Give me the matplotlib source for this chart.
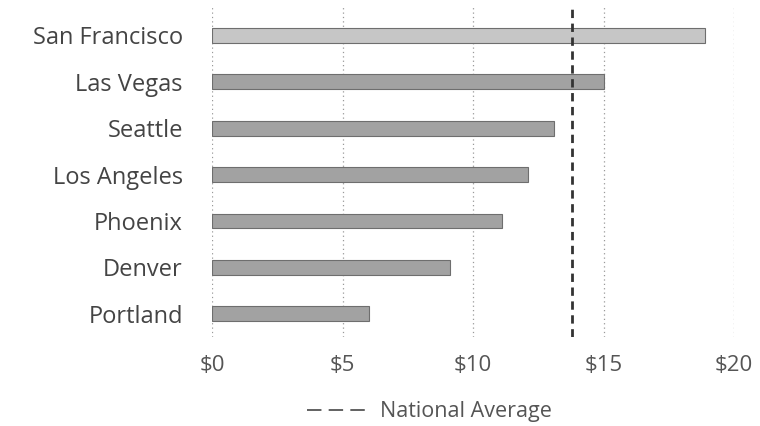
import numpy as np
import matplotlib.pyplot as plt

# hourly minimum wage by city (USD)
cities = ["San Francisco", "Las Vegas", "Seattle", "Los Angeles", "Phoenix", "Denver", "Portland"]
wages = [18.9, 15.0, 13.1, 12.1, 11.1, 9.1, 6.0]
national_avg = 13.8
x_ticks = [0, 5, 10, 15, 20]
x_labels = ["$0", "$5", "$10", "$15", "$20"]

plt.rcParams['font.family'] = ['Open Sans', 'DejaVu Sans']

fig = plt.figure(figsize=(7.6, 4.26), dpi=100)
ax = fig.add_axes([0.279, 0.209, 0.687, 0.779])

# top bar is drawn in a lighter tone than the rest
colors = ['#c6c6c6'] + ['#a2a2a2'] * (len(cities) - 1)
y = np.arange(len(cities))[::-1]
ax.barh(y, wages, height=0.32, color=colors, edgecolor='#6e6e6e', linewidth=0.8, zorder=3)

ax.axvline(national_avg, color='#333333', linestyle=(0, (3, 2)), linewidth=2.0,
           zorder=4, label='National Average')

ax.set_xlim(0, 20)
ax.set_ylim(-0.5, 6.65)
ax.set_xticks(x_ticks)
ax.set_xticklabels(x_labels, fontsize=16, color='#555555')
ax.set_yticks(y)
ax.set_yticklabels(cities, fontsize=17, color='#444444')
ax.tick_params(length=0)
ax.tick_params(axis='x', pad=13)
ax.tick_params(axis='y', pad=21)

ax.grid(axis='x', linestyle=(0, (1, 2.5)), color='#999999', linewidth=0.9, zorder=0)
for s in ax.spines.values():
    s.set_visible(False)

handles, labels = ax.get_legend_handles_labels()
leg = fig.legend(handles, labels, loc='center', bbox_to_anchor=(0.565, 1 - 412 / 426),
                 frameon=False, fontsize=15.5, handlelength=2.7, handletextpad=0.7)
for t in leg.get_texts():
    t.set_color('#555555')
line = leg.get_lines()[0]
line.set_linewidth(1.3)
line.set_color('#555555')
line.set_dashes([8, 4])

fig.savefig('out.png', dpi=100, facecolor='white')
